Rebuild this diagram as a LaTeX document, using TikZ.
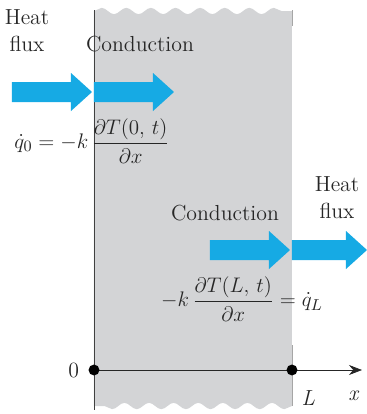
\documentclass[tikz,border=0pt]{standalone}
\usepackage{amsmath}
\usepackage{tikz}
\usetikzlibrary{arrows.meta,decorations.pathmorphing,positioning}

\definecolor{fluxblue}{RGB}{22,170,228}
\definecolor{slabgray}{RGB}{211,212,214}

\begin{document}
\begin{tikzpicture}[
  x=0.02cm, y=-0.02cm,
  >={Stealth[length=2.6mm,width=2mm]},
  lab/.style={font=\rmfamily\fontsize{12.4}{15.5}\selectfont, text=black!85, inner sep=0pt},
  eq/.style={font=\fontsize{12.5}{15}\selectfont, text=black!85, inner sep=0pt},
  atom/.style={circle, fill=black, inner sep=2.2pt},
]
\useasboundingbox (0,0) rectangle (367,414);

% Flux arrow: tail at (#1,#2), total length #3
\newcommand{\fluxarrow}[3]{%
  \fill[fluxblue] (#1,#2) ++(0,-10) -- ++(#3-21,0) -- ++(0,-9) -- ++(21,19)
    -- ++(-21,19) -- ++(0,-9) -- ++(-#3+21,0) -- cycle;
}

% The plane wall with torn top and bottom edges
\fill[slabgray, decoration={snake, amplitude=1.8pt, segment length=14pt}]
  (94,406) -- (94,11) decorate {-- (292,11)} -- (292,406) decorate {-- (94,406)} -- cycle;
\draw[black!75, thin] (94,10) -- (94,410);
\draw[black!35, thin] (292,10) -- (292,26);
\draw[black!35, thin] (292,345) -- (292,406);

% Arrows at x = 0
\fluxarrow{12}{92}{80}
\fluxarrow{94}{92}{80}

% Arrows at x = L
\fluxarrow{210}{250}{80}
\fluxarrow{292}{250}{75}

% Labels
\node[lab, align=center] (fluxin) at (27,31) {Heat\\flux};
\node[lab] (condin) at (140,44) {Conduction};
\node[eq] (bcin) at (92,141)
  {$\dot{q}_0 = -k\,\dfrac{\partial T(0,\,t)}{\partial x}$};

\node[lab] (condout) at (225,213) {Conduction};
\node[lab, align=center] (fluxout) at (337,198) {Heat\\flux};
\node[eq] (bcout) at (242,299)
  {$-k\,\dfrac{\partial T(L,\,t)}{\partial x} = \dot{q}_L$};

% x axis
\coordinate (o) at (94,370);
\coordinate (l) at (292,370);
\coordinate (xend) at (362,370);
\draw[->, thin, black!85] (o) -- (xend);
\node[atom] (odot) at (o) {};
\node[atom] (ldot) at (l) {};
\node[lab, left=5pt of odot] (zero) {0};
\node[lab, below right=9pt and 3pt of ldot] (ell) {\textit{L}};
\node[lab] (xlab) at (354,396) {\textit{x}};

\end{tikzpicture}
\end{document}
